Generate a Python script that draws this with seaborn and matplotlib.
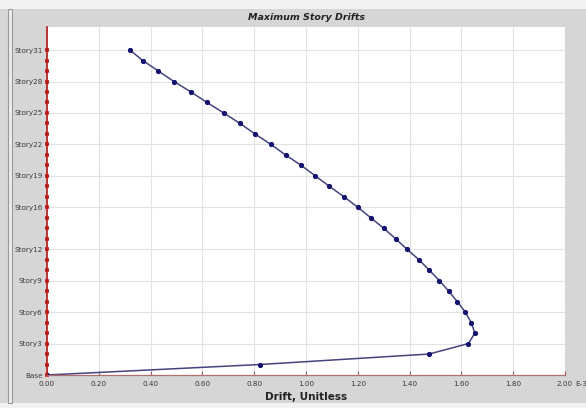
# Maximum story drifts chart (ETABS-style), drawn with seaborn.

import numpy as np
import pandas as pd
import matplotlib
matplotlib.use('Agg')
import matplotlib.pyplot as plt
from matplotlib.patches import Rectangle
import seaborn as sns

# Story levels: 0 = Base, 1..31 = Story1..Story31
story_levels = list(range(0, 32))

# Drift values (x 1E-3), Base -> Story31
drift_values = [0.00, 0.822, 1.475, 1.627, 1.652, 1.638, 1.615, 1.584, 1.551, 1.515,
                1.476, 1.436, 1.390, 1.346, 1.300, 1.250, 1.200, 1.147, 1.090, 1.036,
                0.981, 0.921, 0.864, 0.803, 0.745, 0.682, 0.618, 0.556, 0.490, 0.430,
                0.370, 0.320]

# Labelled stories on the y axis
tick_levels = [0, 3, 6, 9, 12, 16, 19, 22, 25, 28, 31]
tick_labels = ['Base', 'Story3', 'Story6', 'Story9', 'Story12', 'Story16',
               'Story19', 'Story22', 'Story25', 'Story28', 'Story31']

# x tick values
x_ticks = [0.0, 0.2, 0.4, 0.6, 0.8, 1.0, 1.2, 1.4, 1.6, 1.8, 2.0]

drift_df = pd.DataFrame({'Drift': drift_values, 'Level': story_levels})

sns.set_style('white')
plt.rcParams['font.family'] = ['DejaVu Sans']

fig = plt.figure(figsize=(5.86, 4.08), dpi=100, facecolor='#d6d6d6')

# Window-like strips at top and bottom, and the left border
fig.patches.append(Rectangle((0, 1 - 9 / 408), 1, 9 / 408, transform=fig.transFigure,
                             facecolor='#f2f2f2', edgecolor='none', zorder=-5))
fig.patches.append(Rectangle((0, 0), 1, 5 / 408, transform=fig.transFigure,
                             facecolor='#f2f2f2', edgecolor='none', zorder=-5))
fig.patches.append(Rectangle((8 / 586, 5 / 408), 4 / 586, 394 / 408, transform=fig.transFigure,
                             facecolor='#ececec', edgecolor='#9a9a9a', linewidth=0.8, zorder=-5))

ax = fig.add_axes([47 / 586, 33 / 408, 518 / 586, 348 / 408])
ax.set_facecolor('white')

sns.lineplot(
    data=drift_df,
    x='Drift',
    y='Level',
    sort=False,
    estimator=None,
    color='#44447e',
    linewidth=1.1,
    marker='o',
    markersize=3.0,
    markerfacecolor='#141470',
    markeredgecolor='#141470',
    ax=ax,
)

ax.set_xlim(0, 2.0)
ax.set_ylim(0, 33.2)

ax.set_xticks(x_ticks)
ax.set_xticklabels([f'{v:.2f}' for v in x_ticks], fontsize=5.2, color='#3a3a3a')
ax.set_yticks(tick_levels)
ax.set_yticklabels(tick_labels, fontsize=5.2, color='#3a3a3a')
ax.set_yticks(story_levels, minor=True)

ax.grid(True, which='major', color='#e2e2e2', linewidth=0.8)
ax.set_axisbelow(True)

# Red story markers on the y axis
ax.tick_params(axis='y', which='both', left=True, direction='inout', length=2.6, width=2.6,
               color='#cc2222', pad=2)
ax.tick_params(axis='x', which='major', bottom=True, direction='in', length=3, width=0.8,
               color='#a06060', pad=4)

for side in ['top', 'right']:
    ax.spines[side].set_visible(False)
ax.spines['left'].set_color('#b01818')
ax.spines['left'].set_linewidth(1.2)
ax.spines['bottom'].set_color('#b07070')
ax.spines['bottom'].set_linewidth(0.9)

ax.set_ylabel('')
ax.set_xlabel('Drift, Unitless', fontsize=7.5, fontweight='bold', color='#222222', labelpad=4)
ax.set_title('Maximum Story Drifts', fontsize=6.8, fontweight='bold', fontstyle='italic',
             color='#222222', pad=5)

ax.text(1.019, -0.026, 'E-3', transform=ax.transAxes, fontsize=5.2, color='#3a3a3a',
        ha='left', va='center')

fig.savefig('out.png', dpi=100, facecolor=fig.get_facecolor())
